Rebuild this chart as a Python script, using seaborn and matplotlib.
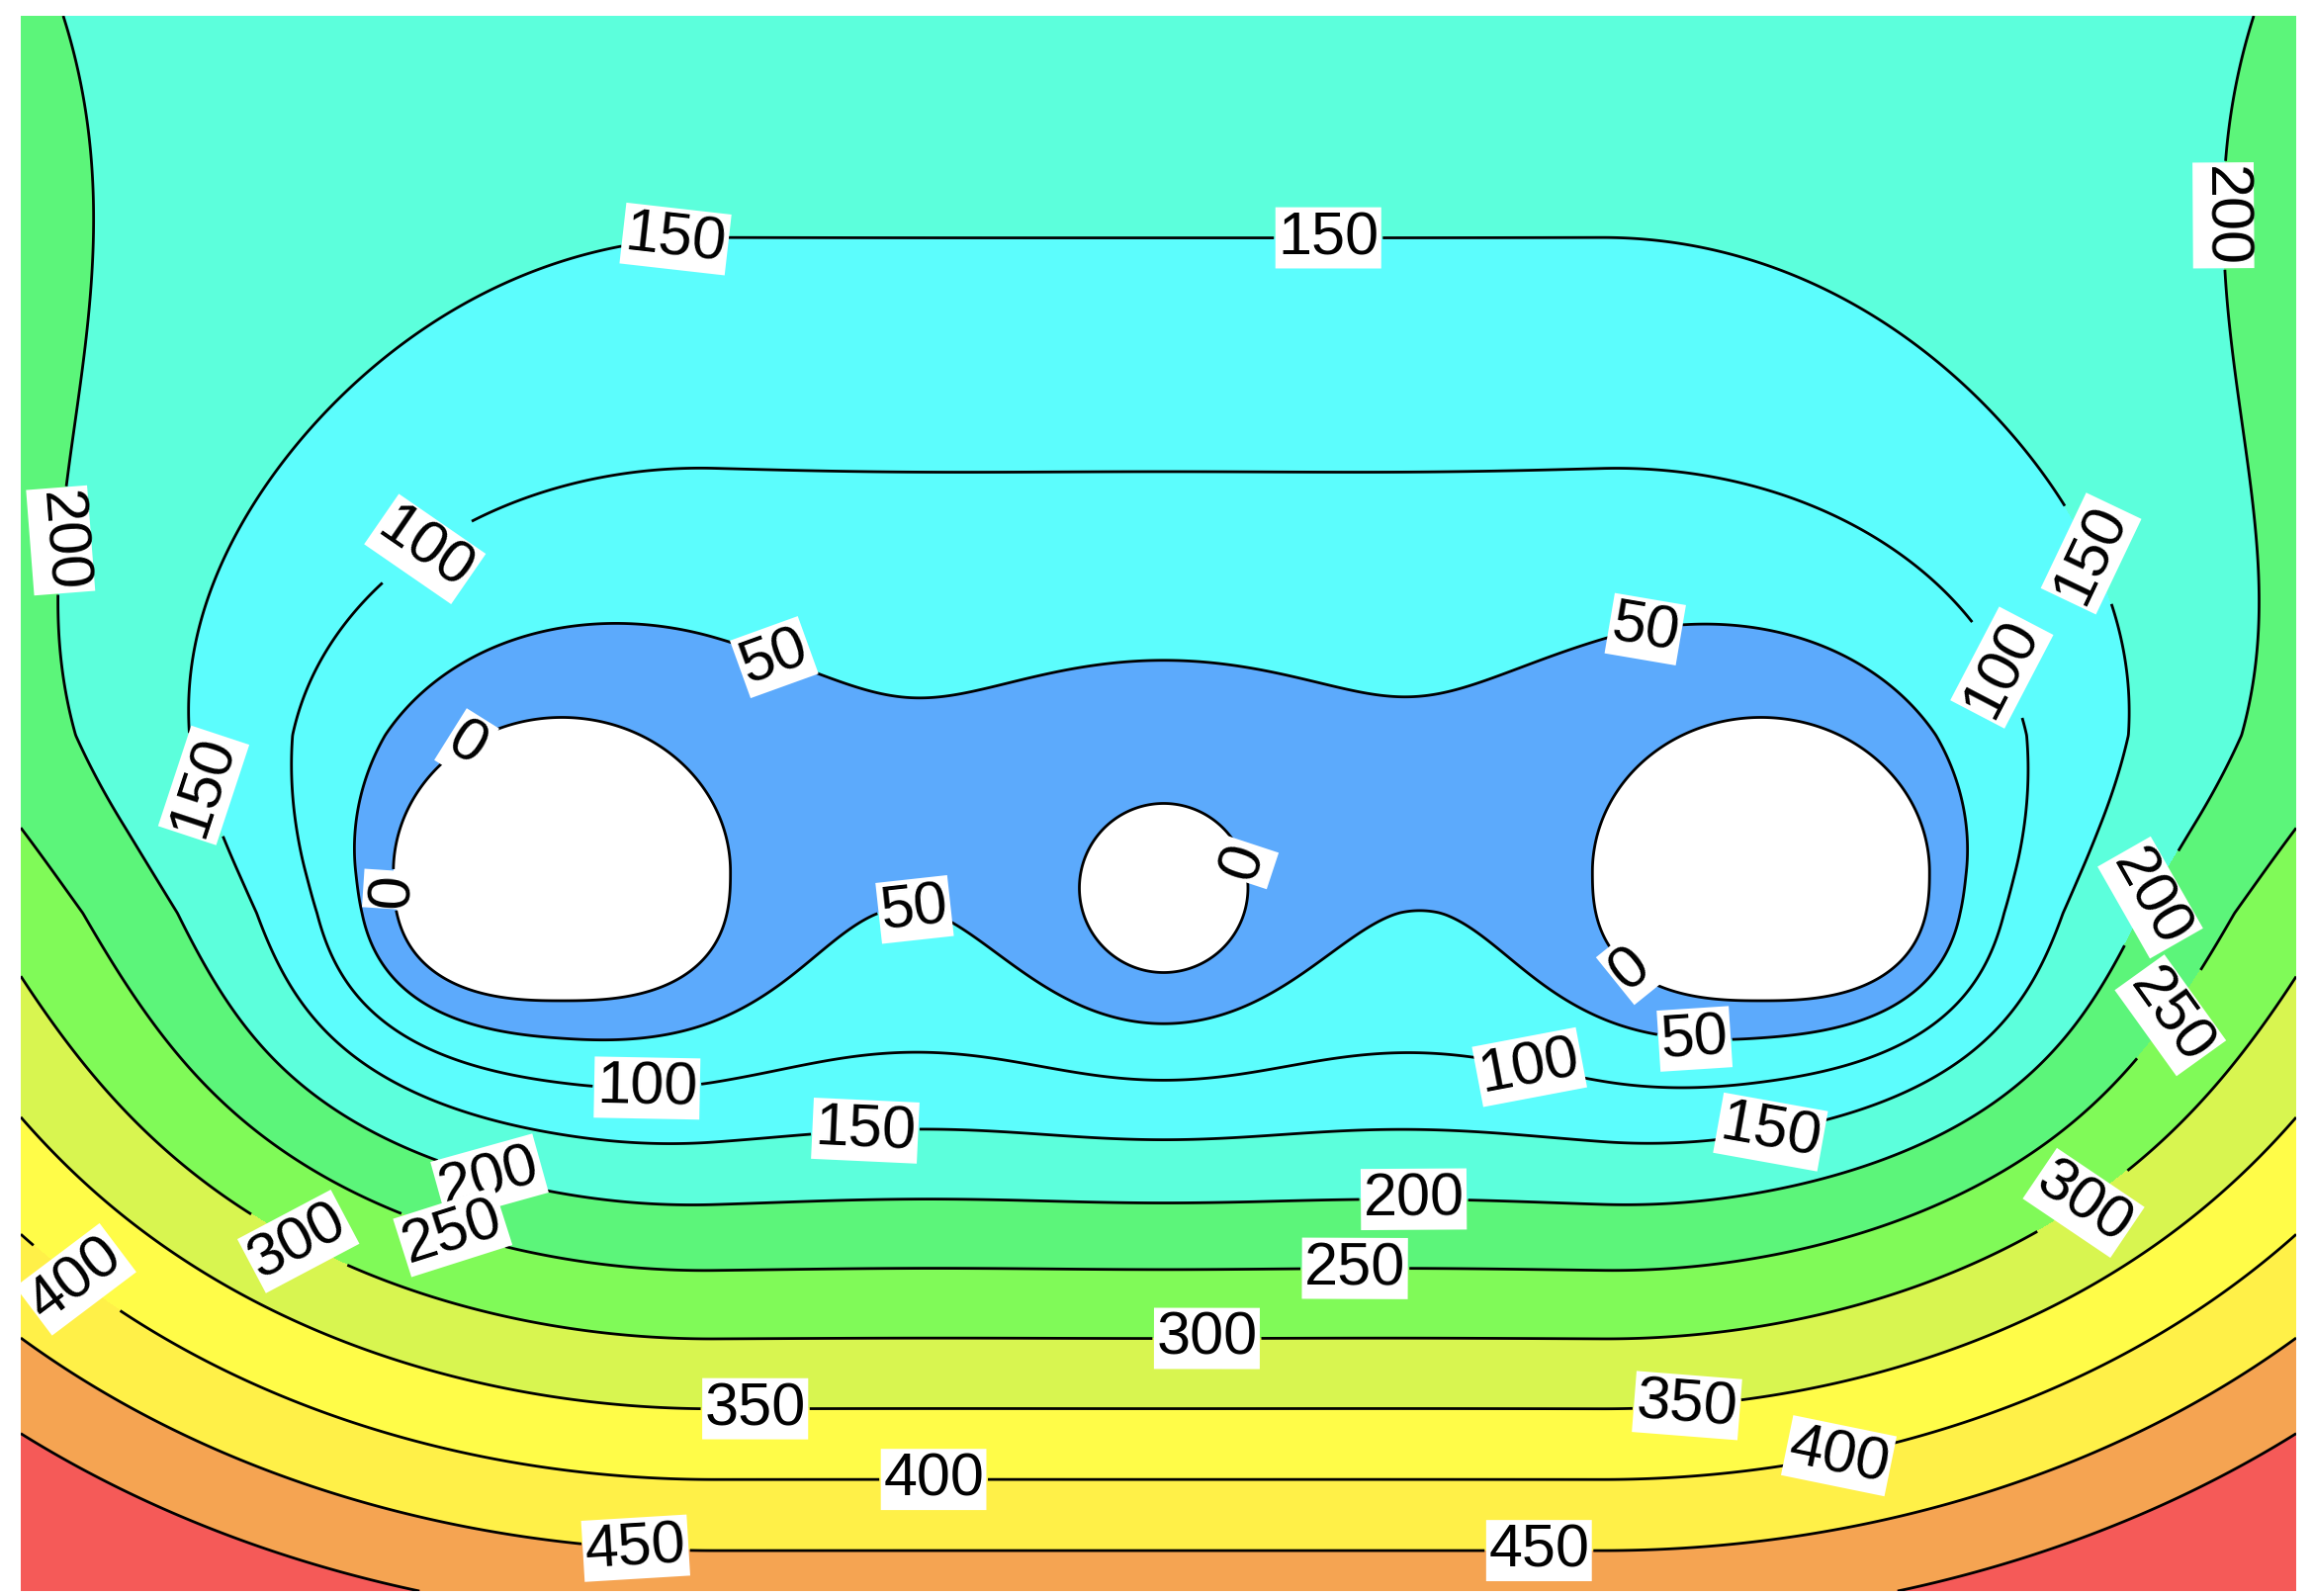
import numpy as np
import matplotlib
matplotlib.use("Agg")
import matplotlib.pyplot as plt
import seaborn as sns

# Section size, in reference pixels (origin at top-left, y = depth downwards)
WIDTH = 1539
HEIGHT = 1062

# Openings: left tunnel, centre pipe, right tunnel
hole_x = [366, 773, 1177]
hole_y = [577, 588, 577]
hole_halfwidth = [114, 57, 114]
hole_top = [104, 57, 104]
hole_bottom = [87, 57, 87]
hole_flat = [2.6, 2.0, 2.6]   # superellipse exponent of the lower half

# Background trend
CORE_X = 769.5
CORE_HALF = 300
CORE_Y = 545
FLOOR = 50.0
GRAD = 1.04
UP_MAX = 245.5
UP_SCALE = 300.0
soft_v = [-60, 60]
soft_r0 = [117, 105]
soft_w = [25, 35]
SIDE_STRETCH = 1.55
UP_C1 = 0.00209
UP_C3 = 6.42e-9
LOW_STRETCH = 1.35
LOW_SCALE = 96.0
DECAY = 45.0

levels = [0, 50, 100, 150, 200, 250, 300, 350, 400, 450, 500]
band_colors = ["#5caafc", "#5cfdfd", "#5cfdfd", "#5cffdc", "#5cf57a",
               "#80fa58", "#d8f550", "#fffc48", "#fff048", "#f5a452", "#f55a58"]

# Label anchors (level, x, y)
label_level = [150, 150, 200, 200, 100, 150, 50, 50, 100, 0, 0, 150, 0, 50,
               200, 0, 250, 50, 100, 100, 150, 150, 200, 200, 300, 250, 300,
               400, 250, 300, 350, 350, 400, 400, 450, 450]
label_x = [444, 884, 1514, 39, 277, 1384, 511, 1099, 1329, 302, 249, 131, 826, 604,
           1446, 1087, 1456, 1132, 1022, 424, 571, 1184, 317, 942, 191, 292, 1389,
           36, 902, 802, 497, 1127, 1227, 617, 416, 1027]
label_y = [163, 150, 135, 355, 365, 370, 430, 413, 445, 493, 590, 517, 570, 602,
           597, 645, 675, 691, 703, 722, 747, 753, 783, 797, 820, 820, 790,
           853, 847, 898, 940, 930, 960, 998, 1030, 1038]


def trend(X, Y):
    u = np.clip(np.abs(X - CORE_X) - CORE_HALF, 0, None)
    v = Y - CORE_Y
    s = np.clip(-v, 0, None)
    below = LOW_STRETCH + (SIDE_STRETCH - LOW_STRETCH) * np.exp(-np.clip(v, 0, None) / LOW_SCALE)
    stretch = np.where(v < 0, SIDE_STRETCH + UP_C1 * s + UP_C3 * s ** 3, below)
    U = u / stretch
    V = np.where(v < 0, UP_MAX * np.tanh(s / UP_SCALE), v)
    r = np.hypot(U, V)
    r0 = np.interp(v, soft_v, soft_r0)
    w = np.interp(v, soft_v, soft_w)
    return FLOOR + GRAD * w * np.logaddexp(0, (r - r0) / w)


def openings(X, Y):
    s = np.ones_like(X)
    for cx, cy, hw, ht, hb, pb in zip(hole_x, hole_y, hole_halfwidth,
                                      hole_top, hole_bottom, hole_flat):
        upper = Y < cy
        h = np.where(upper, ht, hb)
        p = np.where(upper, 2.0, pb)
        dx = np.abs(X - cx) / hw
        dy = np.abs(Y - cy) / h
        q = np.maximum((dx ** p + dy ** p) ** (1 / p), 1e-9)
        scale = (dx ** 2 * hw + dy ** 2 * h) / np.maximum(dx ** 2 + dy ** 2, 1e-9)
        d = (q - 1) * scale
        s *= 1 - np.exp(-d / DECAY)
    return s


def snap(cs, lev, x, y):
    # nearest vertex on the wanted level, so the label lands on that line
    segs = [s for s in cs.allsegs[levels.index(lev)] if len(s)]
    pts = np.vstack(segs)
    i = np.argmin((pts[:, 0] - x) ** 2 + (pts[:, 1] - y) ** 2)
    return tuple(pts[i])


xs = np.linspace(0, WIDTH, 1200)
ys = np.linspace(0, HEIGHT, 830)
X, Y = np.meshgrid(xs, ys)
Z = trend(X, Y) * openings(X, Y)

sns.set_theme(style="white")
plt.rcParams["font.family"] = ["Liberation Sans", "DejaVu Sans"]

fig = plt.figure(figsize=(11.695, 8.075), dpi=200)
ax = fig.add_axes([21 / 2339, 5 / 1615, 2301 / 2339, 1593 / 1615])

palette = sns.color_palette(band_colors)
ax.contourf(X, Y, Z, levels=levels + [2000], colors=palette)
cs = ax.contour(X, Y, Z, levels=levels, colors="black", linewidths=1.0)

manual = [snap(cs, l, x, y) for l, x, y in zip(label_level, label_x, label_y)]
texts = ax.clabel(cs, manual=manual, inline=True, inline_spacing=4,
                  fmt="%d", fontsize=22, colors="black")
for t in texts:
    t.set_bbox(dict(boxstyle="square,pad=0.04", fc="white", ec="none"))

ax.set_xlim(0, WIDTH)
ax.set_ylim(HEIGHT, 0)
ax.axis("off")

fig.savefig("out.png", dpi=200, facecolor="white")
